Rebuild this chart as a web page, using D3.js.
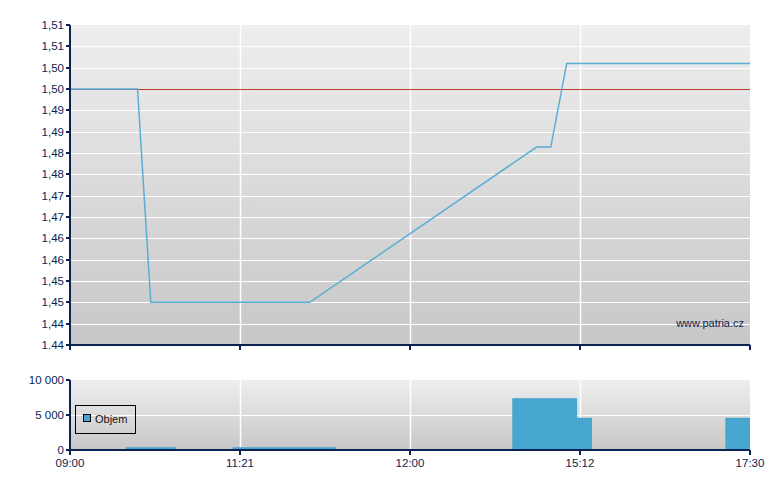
<!DOCTYPE html>
<html><head><meta charset="utf-8">
<script src="https://cdn.jsdelivr.net/npm/d3@7"></script>
<style>body{margin:0;background:#fff}svg{display:block;font-family:"Liberation Sans",Arial,sans-serif}</style>
</head><body><svg id="c" width="780" height="490"></svg>
<script>
// ---- data ----
const xTickLabels = ["09:00","11:21","12:00","15:12","17:30"];
const xTickMinutes = [540,681,720,912,1050];
const priceTickValues = [1.44,1.445,1.45,1.455,1.46,1.465,1.47,1.475,1.48,1.485,1.49,1.495,1.5,1.505,1.51,1.515];
const priceTickLabels = ["1.44","1,44","1,45","1,45","1,46","1,46","1,47","1,47","1,48","1,48","1,49","1,49","1,50","1,50","1,51","1,51"];
const priceTimes = [540,596,607,697,863,879,897,1050];
const prices = [1.50,1.50,1.45,1.45,1.4864,1.4864,1.506,1.506];
const refPrice = 1.50;
const volStart = [586,675,835.5,908.6,1030];
const volEnd = [627.6,703,908.6,921.7,1050];
const volumes = [400,400,7400,4600,4600];
const volTickValues = [0,5000,10000];
const volTickLabels = ["0","5 000","10 000"];
const legendLabel = "Objem";
const watermark = "www.patria.cz";

const navy = "#0b2352", lineCol = "#5aaed6", barCol = "#46a6cf";
const svg = d3.select("#c");
const L = 70, R = 750, T1 = 25, B1 = 345, T2 = 380, B2 = 450;
const x = d3.scaleLinear().domain(xTickMinutes).range(d3.range(5).map(i => L + i*(R-L)/4));
const y = d3.scaleLinear().domain([1.44,1.515]).range([B1,T1]);
const yv = d3.scaleLinear().domain([0,10000]).range([B2,T2]);

const defs = svg.append("defs");
const g1 = defs.append("linearGradient").attr("id","bg").attr("x1",0).attr("y1",0).attr("x2",0).attr("y2",1);
g1.append("stop").attr("offset","0%").attr("stop-color","#eeeeee");
g1.append("stop").attr("offset","100%").attr("stop-color","#c7c7c7");

// panels
svg.append("rect").attr("x",L).attr("y",T1).attr("width",R-L).attr("height",B1-T1).attr("fill","url(#bg)");
svg.append("rect").attr("x",L).attr("y",T2).attr("width",R-L).attr("height",B2-T2).attr("fill","url(#bg)");

// grids price
svg.append("g").selectAll("line").data(priceTickValues.slice(1,-1)).join("line")
  .attr("x1",L).attr("x2",R).attr("y1",d=>Math.round(y(d))+0.5).attr("y2",d=>Math.round(y(d))+0.5)
  .attr("stroke","#fff").attr("stroke-width",1.2);
svg.append("g").selectAll("line").data(xTickMinutes.slice(1,-1)).join("line")
  .attr("x1",d=>x(d)+0.5).attr("x2",d=>x(d)+0.5).attr("y1",T1).attr("y2",B1)
  .attr("stroke","#fff").attr("stroke-width",1.5);
// grids volume
svg.append("g").selectAll("line").data([5000]).join("line")
  .attr("x1",L).attr("x2",R).attr("y1",d=>yv(d)+0.5).attr("y2",d=>yv(d)+0.5).attr("stroke","#fff").attr("stroke-width",1.2);
svg.append("g").selectAll("line").data(xTickMinutes.slice(1,-1)).join("line")
  .attr("x1",d=>x(d)+0.5).attr("x2",d=>x(d)+0.5).attr("y1",T2).attr("y2",B2)
  .attr("stroke","#fff").attr("stroke-width",1.5);

// reference line
svg.append("line").attr("x1",L).attr("x2",R).attr("y1",Math.round(y(refPrice))+0.5).attr("y2",Math.round(y(refPrice))+0.5)
  .attr("stroke","#c0392f").attr("stroke-width",1);

// price line
svg.append("path").datum(priceTimes.map((t,i)=>[t,prices[i]]))
  .attr("d", d3.line().x(d=>x(d[0])).y(d=>y(d[1])))
  .attr("fill","none").attr("stroke",lineCol).attr("stroke-width",1.5);

// volume bars
svg.append("g").selectAll("rect").data(volumes.map((v,i)=>({s:volStart[i],e:volEnd[i],v}))).join("rect")
  .attr("x",d=>x(d.s)).attr("width",d=>x(d.e)-x(d.s)).attr("y",d=>yv(d.v)).attr("height",d=>B2-yv(d.v))
  .attr("fill",barCol);

// axes
const ax = svg.append("g").attr("stroke",navy).attr("stroke-width",2).attr("fill","none");
ax.append("line").attr("x1",L).attr("x2",L).attr("y1",T1).attr("y2",B1+5);
ax.append("line").attr("x1",L).attr("x2",R).attr("y1",B1).attr("y2",B1);
ax.append("line").attr("x1",L).attr("x2",L).attr("y1",T2).attr("y2",B2+5);
ax.append("line").attr("x1",L).attr("x2",R).attr("y1",B2).attr("y2",B2);
ax.selectAll(".pt").data(priceTickValues).join("line").attr("class","pt")
  .attr("x1",L-4).attr("x2",L).attr("y1",d=>Math.round(y(d))).attr("y2",d=>Math.round(y(d)));
ax.selectAll(".vt").data(volTickValues).join("line").attr("class","vt")
  .attr("x1",L-4).attr("x2",L).attr("y1",d=>yv(d)).attr("y2",d=>yv(d));
ax.selectAll(".xt1").data(xTickMinutes).join("line").attr("class","xt1")
  .attr("x1",d=>x(d)).attr("x2",d=>x(d)).attr("y1",B1).attr("y2",B1+5);
ax.selectAll(".xt2").data(xTickMinutes).join("line").attr("class","xt2")
  .attr("x1",d=>x(d)).attr("x2",d=>x(d)).attr("y1",B2).attr("y2",B2+5);

const txt = svg.append("g").attr("fill",navy).attr("font-size",11.5);
txt.selectAll(".pl").data(priceTickValues).join("text").attr("class","pl")
  .attr("x",L-6).attr("y",d=>Math.round(y(d))+4).attr("text-anchor","end").text((d,i)=>priceTickLabels[i]);
txt.selectAll(".vl").data(volTickValues).join("text").attr("class","vl")
  .attr("x",L-6).attr("y",d=>yv(d)+4).attr("text-anchor","end").text((d,i)=>volTickLabels[i]);
txt.selectAll(".xl").data(xTickMinutes).join("text").attr("class","xl")
  .attr("x",d=>x(d)).attr("y",B2+17).attr("text-anchor","middle").text((d,i)=>xTickLabels[i]);
txt.append("text").attr("x",R-6).attr("y",B1-18).attr("text-anchor","end").attr("font-size",11).text(watermark);

// legend
const lg = svg.append("g");
lg.append("rect").attr("x",75.5).attr("y",405.5).attr("width",60).attr("height",28).attr("fill","none").attr("stroke","#000");
lg.append("rect").attr("x",83.5).attr("y",414.5).attr("width",7).attr("height",7).attr("fill",barCol).attr("stroke","#000");
lg.append("text").attr("x",95).attr("y",423).attr("font-size",11).attr("fill","#111").text(legendLabel);
</script></body></html>
